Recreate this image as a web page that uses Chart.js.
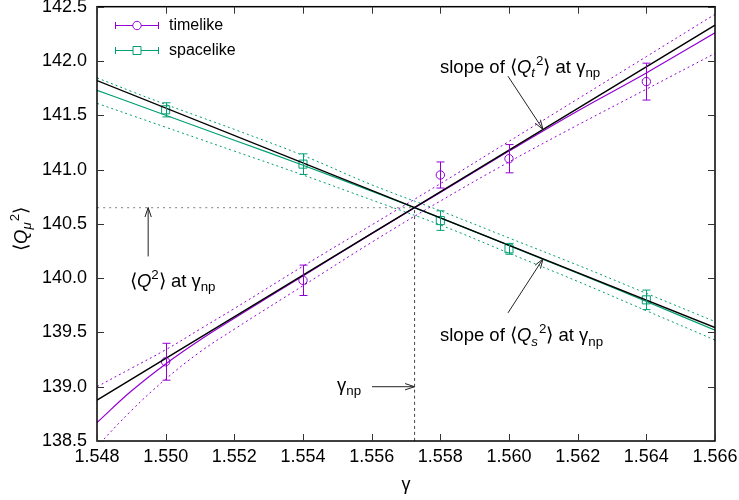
<!DOCTYPE html>
<html>
<head>
<meta charset="utf-8">
<script src="https://cdn.jsdelivr.net/npm/chart.js@4/dist/chart.umd.min.js"></script>
<style>
  html, body { margin: 0; background: #fff; }
  #wrap { width: 739px; height: 500px; }
</style>
</head>
<body>
<div id="wrap"><canvas id="c" width="739" height="500"></canvas></div>
<script>
// tick labels
const xTicks = [1.548, 1.550, 1.552, 1.554, 1.556, 1.558, 1.560, 1.562, 1.564, 1.566];
const yTicks = [138.5, 139.0, 139.5, 140.0, 140.5, 141.0, 141.5, 142.0, 142.5];

// measured points
const gammaData = [1.550, 1.554, 1.558, 1.560, 1.564];
const q2Timelike = [139.23, 139.98, 140.95, 141.10, 141.81];
const errTimelike = [0.17, 0.14, 0.12, 0.13, 0.17];
const q2Spacelike = [141.55, 141.05, 140.53, 140.27, 139.80];
const errSpacelike = [0.065, 0.095, 0.09, 0.05, 0.09];

// fit curves and their error bands
const gammaFit = [1.548, 1.549, 1.550, 1.551, 1.552, 1.554, 1.556, 1.558, 1.560, 1.562, 1.564, 1.566];
const fitTimelike   = [138.67, 138.96, 139.21, 139.43, 139.63, 140.02, 140.41, 140.79, 141.17, 141.54, 141.89, 142.26];
const fitTimelikeHi = [139.00, 139.17, 139.34, 139.53, 139.72, 140.11, 140.49, 140.87, 141.26, 141.65, 142.04, 142.43];
const fitTimelikeLo = [138.45, 138.78, 139.07, 139.32, 139.53, 139.93, 140.33, 140.71, 141.07, 141.41, 141.74, 142.07];
const fitSpacelike   = [141.73, 141.615, 141.50, 141.385, 141.27, 141.04, 140.80, 140.555, 140.30, 140.045, 139.785, 139.52];
const fitSpacelikeHi = [141.845, 141.72, 141.60, 141.485, 141.37, 141.13, 140.86, 140.62, 140.37, 140.12, 139.86, 139.60];
const fitSpacelikeLo = [141.61, 141.50, 141.39, 141.28, 141.17, 140.95, 140.72, 140.49, 140.23, 139.97, 139.70, 139.43];

// tangent lines at gamma_np
const gammaTangent = [1.548, 1.566];
const tangentTimelike = [138.876, 142.33];
const tangentSpacelike = [141.82, 139.545];

const gammaNp = 1.55725;
const q2Np = 140.65;

const PURPLE = '#9400d3';
const GREEN = '#009e73';
const FONT = '"Liberation Sans", Arial, Helvetica, sans-serif';

const pts = (xs, ys) => xs.map((x, i) => ({ x, y: ys[i] }));

function line(data, color, width, dash) {
  return { data, borderColor: color, borderWidth: width, borderDash: dash || [],
    pointRadius: 0, fill: false, tension: 0.4 };
}

// annotation texts (parts: t text, it italic, sub/sup)
const angL = '\u27E8', angR = '\u27E9';
const labelSlopeT = [{t:'slope of '}, {t:angL}, {t:'Q', it:1}, {t:'t', it:1, sub:1}, {t:'2', sup:1, dx:1}, {t:angR + ' at '}, {t:'\u03B3'}, {t:'np', sub:1}];
const labelSlopeS = [{t:'slope of '}, {t:angL}, {t:'Q', it:1}, {t:'s', it:1, sub:1}, {t:'2', sup:1, dx:1}, {t:angR + ' at '}, {t:'\u03B3'}, {t:'np', sub:1}];
const labelQ2 = [{t:angL}, {t:'Q', it:1}, {t:'2', sup:1}, {t:angR + ' at '}, {t:'\u03B3'}, {t:'np', sub:1}];
const labelGnp = [{t:'\u03B3'}, {t:'np', sub:1}];
const labelY = [{t:angL}, {t:'Q', it:1}, {t:'\u03BC', it:1, sub:1}, {t:'2', sup:1, dx:1}, {t:angR}];

// where the labels and arrows sit, in data coordinates
const annotations = [
  { text: labelSlopeT, at: [1.55799, 141.89], from: [1.55997, 141.86], to: [1.56099, 141.37] },
  { text: labelSlopeS, at: [1.55799, 139.42], from: [1.55997, 139.68], to: [1.56099, 140.177] },
  { text: labelQ2, at: [1.54896, 139.92], from: [1.54949, 140.20], to: [1.54949, q2Np] },
  { text: labelGnp, at: [1.55499, 138.96], from: [1.55601, 139.0], to: [gammaNp, 139.0] }
];

function rich(ctx, parts, x, y, size, measureOnly) {
  let cx = x;
  for (const p of parts) {
    const small = p.sub || p.sup;
    const fs = small ? size * 0.72 : size;
    ctx.font = (p.it ? 'italic ' : '') + fs + 'px ' + FONT;
    const dy = p.sub ? size * 0.24 : (p.sup ? -size * 0.42 : 0);
    cx += p.dx || 0;
    if (!measureOnly) ctx.fillText(p.t, cx, y + dy);
    cx += ctx.measureText(p.t).width;
  }
  return cx - x;
}

function arrow(ctx, x1, y1, x2, y2) {
  ctx.beginPath(); ctx.moveTo(x1, y1); ctx.lineTo(x2, y2); ctx.stroke();
  const a = Math.atan2(y2 - y1, x2 - x1), L = 10, w = 0.32;
  ctx.beginPath();
  ctx.moveTo(x2 - L * Math.cos(a - w), y2 - L * Math.sin(a - w));
  ctx.lineTo(x2, y2);
  ctx.lineTo(x2 - L * Math.cos(a + w), y2 - L * Math.sin(a + w));
  ctx.stroke();
}

const decor = {
  id: 'decor',
  afterDatasetsDraw(chart) {
    const { ctx, chartArea: ca, scales: { x, y } } = chart;
    ctx.save();
    // error bars
    chart.data.datasets.forEach(ds => {
      if (!ds.errors) return;
      ctx.strokeStyle = ds.borderColor; ctx.lineWidth = 1;
      ds.data.forEach((p, i) => {
        const px = Math.round(x.getPixelForValue(p.x)) + 0.5;
        const y1 = y.getPixelForValue(p.y + ds.errors[i]);
        const y2 = y.getPixelForValue(p.y - ds.errors[i]);
        ctx.beginPath();
        ctx.moveTo(px, y1); ctx.lineTo(px, y2);
        ctx.moveTo(px - 4, y1); ctx.lineTo(px + 4, y1);
        ctx.moveTo(px - 4, y2); ctx.lineTo(px + 4, y2);
        ctx.stroke();
      });
    });

    // frame and inward ticks
    ctx.strokeStyle = '#000'; ctx.lineWidth = 1.5;
    ctx.strokeRect(ca.left, ca.top, ca.right - ca.left, ca.bottom - ca.top);
    ctx.lineWidth = 1; ctx.strokeStyle = '#333';
    ctx.beginPath();
    xTicks.forEach(v => {
      const px = Math.round(x.getPixelForValue(v)) + 0.5;
      ctx.moveTo(px, ca.bottom); ctx.lineTo(px, ca.bottom - 7);
      ctx.moveTo(px, ca.top); ctx.lineTo(px, ca.top + 7);
    });
    yTicks.forEach(v => {
      const py = Math.round(y.getPixelForValue(v)) + 0.5;
      ctx.moveTo(ca.left, py); ctx.lineTo(ca.left + 7, py);
      ctx.moveTo(ca.right, py); ctx.lineTo(ca.right - 7, py);
    });
    ctx.stroke();

    // legend
    const leg = [[PURPLE, 'timelike', 'circle', 25], [GREEN, 'spacelike', 'rect', 50]];
    leg.forEach(([col, name, sym, ly]) => {
      ctx.strokeStyle = col; ctx.lineWidth = 1;
      ctx.beginPath();
      ctx.moveTo(115, ly + 0.5); ctx.lineTo(159, ly + 0.5);
      ctx.moveTo(115.5, ly - 3); ctx.lineTo(115.5, ly + 4);
      ctx.moveTo(158.5, ly - 3); ctx.lineTo(158.5, ly + 4);
      ctx.stroke();
      ctx.fillStyle = '#fff';
      ctx.beginPath();
      if (sym === 'circle') ctx.arc(137, ly + 0.5, 4.2, 0, Math.PI * 2);
      else ctx.rect(133, ly - 3.5, 8, 8);
      ctx.fill(); ctx.stroke();
      ctx.fillStyle = '#000'; ctx.font = '16px ' + FONT;
      ctx.textBaseline = 'middle'; ctx.textAlign = 'left';
      ctx.fillText(name, 169, ly + 1);
    });

    // annotations
    ctx.textBaseline = 'alphabetic'; ctx.textAlign = 'left';
    ctx.fillStyle = '#000'; ctx.strokeStyle = '#222'; ctx.lineWidth = 1;
    annotations.forEach(a => {
      rich(ctx, a.text, x.getPixelForValue(a.at[0]), y.getPixelForValue(a.at[1]), 18.5);
      arrow(ctx, x.getPixelForValue(a.from[0]), y.getPixelForValue(a.from[1]),
                 x.getPixelForValue(a.to[0]), y.getPixelForValue(a.to[1]));
    });

    // axis titles
    ctx.font = '18px ' + FONT; ctx.textAlign = 'center';
    ctx.fillText('\u03B3', (ca.left + ca.right) / 2, 490);
    ctx.textAlign = 'left';
    ctx.save();
    ctx.translate(27, (ca.top + ca.bottom) / 2 + 5);
    ctx.rotate(-Math.PI / 2);
    const w = rich(ctx, labelY, 0, 0, 18.5, true);
    rich(ctx, labelY, -w / 2, 0, 18.5);
    ctx.restore();
    ctx.restore();
  }
};

new Chart(document.getElementById('c'), {
  type: 'line',
  data: {
    datasets: [
      line(pts(gammaTangent, tangentTimelike), '#000', 1.4),
      line(pts(gammaTangent, tangentSpacelike), '#000', 1.4),
      line(pts(gammaFit, fitTimelike), PURPLE, 1.2),
      line(pts(gammaFit, fitTimelikeHi), PURPLE, 1, [2, 3]),
      line(pts(gammaFit, fitTimelikeLo), PURPLE, 1, [2, 3]),
      line(pts(gammaFit, fitSpacelike), GREEN, 1.2),
      line(pts(gammaFit, fitSpacelikeHi), GREEN, 1, [2, 3]),
      line(pts(gammaFit, fitSpacelikeLo), GREEN, 1, [2, 3]),
      line([{ x: xTicks[0], y: q2Np }, { x: gammaNp, y: q2Np }], '#999', 1.3, [2, 4]),
      line([{ x: gammaNp, y: yTicks[0] }, { x: gammaNp, y: q2Np }], '#444', 1, [3, 3]),
      { data: pts(gammaData, q2Timelike), errors: errTimelike, showLine: false,
        borderColor: PURPLE, backgroundColor: 'rgba(0,0,0,0)', pointStyle: 'circle',
        pointRadius: 4.2, pointBorderWidth: 1 },
      { data: pts(gammaData, q2Spacelike), errors: errSpacelike, showLine: false,
        borderColor: GREEN, backgroundColor: 'rgba(0,0,0,0)', pointStyle: 'rect',
        pointRadius: 5.7, pointBorderWidth: 1 }
    ]
  },
  options: {
    responsive: false,
    animation: false,
    events: [],
    layout: { padding: { top: 5, right: 24, left: 0, bottom: 0 } },
    plugins: { legend: { display: false }, tooltip: { enabled: false } },
    scales: {
      x: {
        type: 'linear', min: xTicks[0], max: xTicks[xTicks.length - 1],
        afterBuildTicks: s => { s.ticks = xTicks.map(v => ({ value: v })); },
        afterFit: s => { s.height = 59; s.paddingLeft = 0; s.paddingRight = 0; },
        grid: { display: false, drawTicks: false },
        border: { display: false },
        ticks: { callback: v => v.toFixed(3), color: '#000', padding: 5,
          font: { size: 18, family: FONT }, maxRotation: 0, autoSkip: false }
      },
      y: {
        type: 'linear', min: yTicks[0], max: yTicks[yTicks.length - 1],
        afterBuildTicks: s => { s.ticks = yTicks.map(v => ({ value: v })); },
        afterFit: s => { s.width = 97; s.paddingTop = 0; s.paddingBottom = 0; },
        grid: { display: false, drawTicks: false },
        border: { display: false },
        ticks: { callback: v => v.toFixed(1), color: '#000', padding: 10,
          font: { size: 18, family: FONT }, autoSkip: false }
      }
    }
  },
  plugins: [decor]
});
</script>
</body>
</html>
